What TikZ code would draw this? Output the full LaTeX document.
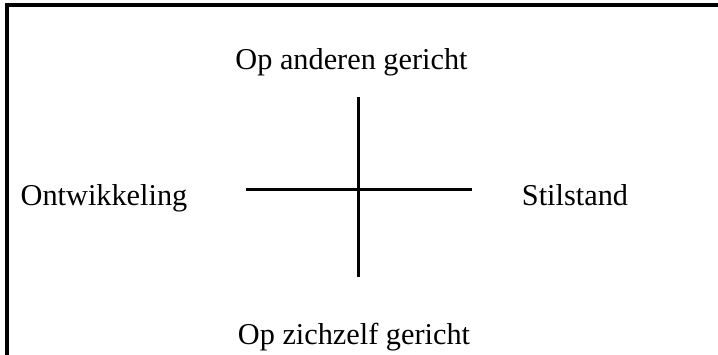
\documentclass[tikz,border=0pt]{standalone}
\usepackage{fontspec}
\setmainfont{Liberation Serif}
\begin{document}
\begin{tikzpicture}[x=1pt,y=-1pt,
  lbl/.style={anchor=base,inner sep=0pt,font=\fontsize{30.3}{35}\selectfont},
  axis/.style={line width=3pt},
  frame/.style={line width=3.5pt}]
\useasboundingbox (0,0) rectangle (718,354);
\coordinate (fbl) at (7,356);
\coordinate (ftl) at (7,5);
\coordinate (ftr) at (720,5);
\draw[frame] (fbl) -- (ftl) -- (ftr);
\coordinate (vt) at (358,97);
\coordinate (vb) at (358,277);
\coordinate (hl) at (246,189);
\coordinate (hr) at (472,189);
\draw[axis] (vt) -- (vb);
\draw[axis] (hl) -- (hr);
\node[lbl] (top) at (351.5,69) {Op anderen gericht};
\node[lbl] (bot) at (354,344) {Op zichzelf gericht};
\node[lbl] (left) at (104,205) {Ontwikkeling};
\node[lbl] (right) at (575,205) {Stilstand};
\end{tikzpicture}
\end{document}
